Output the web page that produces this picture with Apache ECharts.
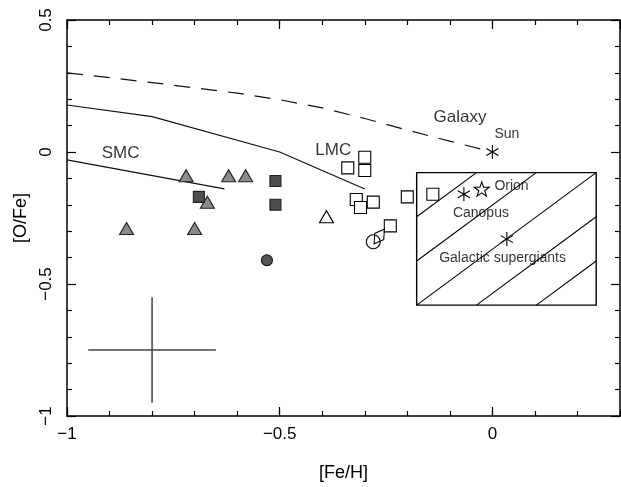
<!DOCTYPE html>
<html>
<head>
<meta charset="utf-8">
<script src="https://cdn.jsdelivr.net/npm/echarts@6/dist/echarts.min.js"></script>
<style>
html, body { margin: 0; padding: 0; background: #fff; }
#chart { width: 621px; height: 487px; }
</style>
</head>
<body>
<div id="chart"></div>
<script>
// === DATA ===
// model curves [Fe/H], [O/Fe]
const galaxyX = [-1, -0.8, -0.6, -0.5, -0.4, -0.3, -0.2, -0.1, 0];
const galaxyY = [0.30, 0.263, 0.223, 0.198, 0.167, 0.127, 0.083, 0.041, 0];
const lmcLineX = [-1, -0.8, -0.5, -0.3];
const lmcLineY = [0.178, 0.134, 0.0, -0.14];
const smcLineX = [-1, -0.63];
const smcLineY = [-0.03, -0.14];

// SMC stars
const smcTriX = [-0.72, -0.62, -0.58, -0.67, -0.86, -0.70];
const smcTriY = [-0.09, -0.09, -0.09, -0.19, -0.29, -0.29];
const smcSqX = [-0.69, -0.51, -0.51];
const smcSqY = [-0.17, -0.11, -0.20];
const smcCircX = [-0.53];
const smcCircY = [-0.41];

// LMC stars
const lmcSqX = [-0.34, -0.30, -0.30, -0.32, -0.31, -0.28, -0.20, -0.14, -0.24];
const lmcSqY = [-0.06, -0.02, -0.07, -0.18, -0.21, -0.19, -0.17, -0.16, -0.28];
const lmcTriX = [-0.39];
const lmcTriY = [-0.245];
const lmcCircX = [-0.28];
const lmcCircY = [-0.34];
const lmcDiaX = [-0.266];
const lmcDiaY = [-0.32];

// Galactic references
const astX = [0, -0.067, 0.034];   // Sun, Canopus, supergiants
const astY = [0, -0.16, -0.33];
const orionX = [-0.025];
const orionY = [-0.14];

// supergiant box: x0, x1, y0, y1
const boxX = [-0.178, 0.244];
const boxY = [-0.58, -0.078];

// typical error bar
const errX = [-0.8];
const errY = [-0.75];
const errDX = [0.15];
const errDY = [0.2];

// text labels
const bigNames = ['SMC', 'LMC', 'Galaxy'];
const bigX = [-0.874, -0.374, -0.076];
const bigY = [-0.006, 0.005, 0.13];
const smallNames = ['Sun', 'Orion', 'Canopus', 'Galactic supergiants'];
const smallX = [0.034, 0.045, -0.027, 0.024];
const smallY = [0.068, -0.131, -0.232, -0.403];

const xMin = -1, xMax = 0.3, yMin = -1, yMax = 0.5;

// === HELPERS ===
const FONT = 'Liberation Sans';
const pairs = (xs, ys) => xs.map((x, i) => [x, ys[i]]);
const fmt = v => String(Math.round(v * 10) / 10).replace('-', '\u2212');

function starPath() {
    let d = '';
    for (let i = 0; i < 10; i++) {
        const r = i % 2 === 0 ? 10 : 4;
        const a = -Math.PI / 2 + i * Math.PI / 5;
        d += (i === 0 ? 'M' : 'L') + (r * Math.cos(a)).toFixed(2) + ' ' + (r * Math.sin(a)).toFixed(2) + ' ';
    }
    return 'path://' + d + 'Z';
}
const asteriskPath = 'path://M0 -10L0 10M-8.66 -5L8.66 5M-8.66 5L8.66 -5';
const diamondPath = 'path://M0 -10L6 0L0 10L-6 0Z';

function xAxisCfg(pos, interval, len, major, labels) {
    return {
        type: 'value', position: pos, min: xMin, max: xMax, interval: interval,
        axisLine: { show: major, onZero: false, lineStyle: { color: '#000', width: 1.5 } },
        axisTick: { show: true, inside: true, length: len, lineStyle: { color: '#000', width: 1.2 } },
        axisLabel: {
            show: labels, margin: 10, color: '#000', fontFamily: FONT, fontSize: 17,
            showMaxLabel: false, formatter: fmt
        },
        splitLine: { show: false },
        name: labels ? '[Fe/H]' : '', nameLocation: 'middle', nameGap: 48,
        nameTextStyle: { color: '#000', fontFamily: FONT, fontSize: 18 }
    };
}
function yAxisCfg(pos, labels) {
    return {
        type: 'value', position: pos, min: yMin, max: yMax, interval: 0.5,
        axisLine: { show: true, onZero: false, lineStyle: { color: '#000', width: 1.5 } },
        axisTick: { show: true, inside: true, length: 9, lineStyle: { color: '#000', width: 1.2 } },
        minorTick: { show: true, splitNumber: 5, length: 5, lineStyle: { color: '#000', width: 1.2 } },
        axisLabel: {
            show: labels, rotate: 90, margin: 12, color: '#000', fontFamily: FONT, fontSize: 17,
            formatter: fmt
        },
        splitLine: { show: false },
        name: labels ? '[O/Fe]' : '', nameLocation: 'middle', nameRotate: 90, nameGap: 30,
        nameTextStyle: { color: '#000', fontFamily: FONT, fontSize: 18 }
    };
}

function lineSeries(xs, ys, dashed) {
    return {
        type: 'line', data: pairs(xs, ys), showSymbol: false, symbol: 'none',
        lineStyle: { color: '#111', width: 1.2, type: dashed ? [16, 11] : 'solid' },
        z: 2
    };
}
function scatter(xs, ys, symbol, size, fill, stroke, extra) {
    return Object.assign({
        type: 'scatter', data: pairs(xs, ys), symbol: symbol, symbolSize: size,
        itemStyle: { color: fill, borderColor: stroke, borderWidth: 1.1, opacity: 1 },
        z: 4
    }, extra || {});
}
function textSeries(names, xs, ys, size) {
    return {
        type: 'scatter', symbolSize: 0, z: 5,
        data: names.map((n, i) => [xs[i], ys[i], n]),
        itemStyle: { color: 'transparent' },
        label: {
            show: true, position: 'inside', color: '#000', fontFamily: FONT, fontSize: size,
            formatter: p => p.data[2]
        }
    };
}

// === RENDER ===
const chart = echarts.init(document.getElementById('chart'), null, { renderer: 'canvas' });

const option = {
    animation: false,
    grid: { left: 67, right: 1, top: 20, bottom: 71, containLabel: false },
    xAxis: [
        xAxisCfg('bottom', 0.5, 9, true, true),
        xAxisCfg('bottom', 0.1, 5, false, false),
        xAxisCfg('top', 0.5, 9, true, false),
        xAxisCfg('top', 0.1, 5, false, false)
    ],
    yAxis: [yAxisCfg('left', true), yAxisCfg('right', false)],
    series: [
        lineSeries(galaxyX, galaxyY, true),
        lineSeries(lmcLineX, lmcLineY, false),
        lineSeries(smcLineX, smcLineY, false),
        {
            type: 'custom', z: 3,
            data: [[boxX[0], boxX[1], boxY[0], boxY[1]]],
            renderItem: function (params, api) {
                const p0 = api.coord([api.value(0), api.value(2)]);
                const p1 = api.coord([api.value(1), api.value(3)]);
                const w = p1[0] - p0[0], h = p0[1] - p1[1];
                const st = { stroke: '#000', lineWidth: 1.1, fill: 'none' };
                const kids = [{
                    type: 'rect', shape: { x: p0[0], y: p1[1], width: w, height: h },
                    style: { stroke: '#000', lineWidth: 1.4, fill: 'none' }
                }];
                for (let k = 0; k < 3; k++) {
                    kids.push({ type: 'line', style: st, shape: {
                        x1: p0[0] + k * w / 3, y1: p0[1], x2: p1[0], y2: p1[1] + k * h / 3 } });
                }
                for (let k = 1; k < 3; k++) {
                    kids.push({ type: 'line', style: st, shape: {
                        x1: p0[0], y1: p0[1] - k * h / 3, x2: p1[0] - k * w / 3, y2: p1[1] } });
                }
                return { type: 'group', children: kids };
            }
        },
        {
            type: 'custom', z: 3,
            data: errX.map((x, i) => [x, errY[i], errDX[i], errDY[i]]),
            renderItem: function (params, api) {
                const x = api.value(0), y = api.value(1), dx = api.value(2), dy = api.value(3);
                const a = api.coord([x - dx, y]), b = api.coord([x + dx, y]);
                const c = api.coord([x, y - dy]), d = api.coord([x, y + dy]);
                const st = { stroke: '#444', lineWidth: 1.5 };
                return { type: 'group', children: [
                    { type: 'line', style: st, shape: { x1: a[0], y1: a[1], x2: b[0], y2: b[1] } },
                    { type: 'line', style: st, shape: { x1: c[0], y1: c[1], x2: d[0], y2: d[1] } }
                ] };
            }
        },
        scatter(smcTriX, smcTriY, 'triangle', [14, 12], '#8c8c8c', '#222'),
        scatter(smcSqX, smcSqY, 'rect', 11, '#4d4d4d', '#222'),
        scatter(smcCircX, smcCircY, 'circle', 11, '#555', '#111'),
        scatter(lmcSqX, lmcSqY, 'rect', 12, '#fff', '#000'),
        scatter(lmcTriX, lmcTriY, 'triangle', [14, 12], '#fff', '#000'),
        scatter(lmcCircX, lmcCircY, 'circle', 14, 'none', '#000'),
        scatter(lmcDiaX, lmcDiaY, diamondPath, [11, 18], 'none', '#000', { symbolRotate: -35 }),
        scatter(astX, astY, asteriskPath, 14, 'none', '#000', { symbolKeepAspect: true }),
        scatter(orionX, orionY, starPath(), 15, 'none', '#000', { symbolKeepAspect: true }),
        textSeries(bigNames, bigX, bigY, 17),
        textSeries(smallNames, smallX, smallY, 14)
    ]
};
option.series.forEach(s => { s.xAxisIndex = 0; s.yAxisIndex = 0; s.silent = true; });

chart.setOption(option);
</script>
</body>
</html>
